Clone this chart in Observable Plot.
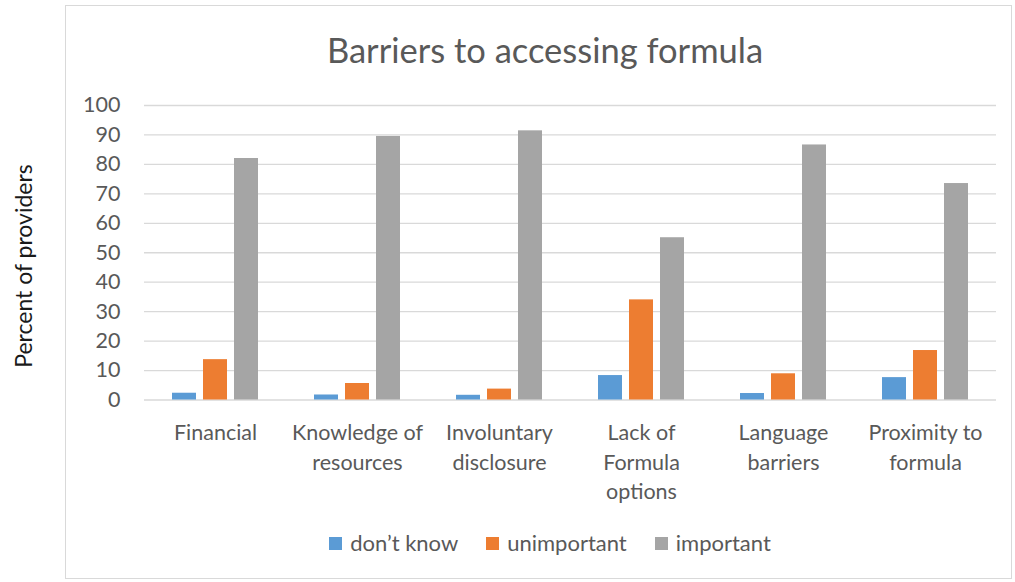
<!DOCTYPE html>
<html>
<head>
<meta charset="utf-8">
<script src="https://cdn.jsdelivr.net/npm/d3@7"></script>
<script src="https://cdn.jsdelivr.net/npm/@observablehq/plot@0.6"></script>
<style>
  html, body { margin: 0; padding: 0; background: #fff; }
  #wrap { position: relative; width: 1015px; height: 582px; font-family: Lato, "Open Sans", sans-serif; color: #595959; overflow: hidden; }
  #frame { position: absolute; left: 65px; top: 5px; width: 947px; height: 574px; border: 1px solid #d9d9d9; box-sizing: border-box; }
  #title { position: absolute; left: 65px; width: 960px; top: 28px; text-align: center; font-size: 34.5px; font-weight: 400; line-height: 44px; color: #595959; }
  #ylabel { position: absolute; left: 23px; top: 266px; transform: translate(-50%, -50%) rotate(-90deg); white-space: nowrap; font-size: 23px; color: #1a1a1a; }
  #chart { position: absolute; left: 65px; top: 90px; }
  #legend { position: absolute; left: 0; width: 1100px; top: 527px; display: flex; justify-content: center; gap: 28px; font-size: 22px; line-height: 32px; }
  .item { display: flex; align-items: center; gap: 8px; }
  .sw { width: 13px; height: 13px; display: inline-block; }
</style>
</head>
<body>
<div id="wrap">
  <div id="frame"></div>
  <div id="title"></div>
  <div id="ylabel"></div>
  <div id="chart"></div>
  <div id="legend"></div>
</div>
<script>
const title = "Barriers to accessing formula";
const yLabel = "Percent of providers";
const categories = ["Financial", "Knowledge of resources", "Involuntary disclosure", "Lack of Formula options", "Language barriers", "Proximity to formula"];
const categoryLabels = ["Financial", "Knowledge of\nresources", "Involuntary\ndisclosure", "Lack of\nFormula\noptions", "Language\nbarriers", "Proximity to\nformula"];
const series = ["don\u2019t know", "unimportant", "important"];
const colors = ["#5b9bd5", "#ed7d31", "#a5a5a5"];
const dontKnow = [2.3, 1.7, 1.6, 8.3, 2.2, 7.6];
const unimportant = [13.7, 5.6, 3.7, 34.0, 8.9, 16.8];
const important = [82.0, 89.5, 91.4, 55.1, 86.6, 73.5];
const yTicks = [0, 10, 20, 30, 40, 50, 60, 70, 80, 90, 100];

const valuesBySeries = [dontKnow, unimportant, important];
const data = [];
categories.forEach((c, i) => {
  series.forEach((s, j) => data.push({category: c, series: s, value: valuesBySeries[j][i]}));
});

document.getElementById("title").textContent = title;
document.getElementById("ylabel").textContent = yLabel;

const labelMap = new Map(categories.map((c, i) => [c, categoryLabels[i]]));

const chart = Plot.plot({
  width: 947,
  height: 425,
  marginLeft: 77,
  marginRight: 15,
  marginTop: 15,
  marginBottom: 115.5,
  style: {fontFamily: "Lato, 'Open Sans', sans-serif", color: "#595959", background: "transparent"},
  fx: {domain: categories, paddingInner: 0, paddingOuter: 0, label: null},
  x: {domain: series, paddingInner: 0.219, paddingOuter: 0.844, axis: null},
  y: {domain: [0, 100], label: null},
  color: {domain: series, range: colors},
  marks: [
    Plot.gridY(yTicks, {stroke: "#d9d9d9", strokeOpacity: 1, strokeWidth: 1.3}),
    Plot.barY(data, {fx: "category", x: "series", y: "value", fill: "series"}),
    Plot.axisY(yTicks, {tickSize: 0, tickPadding: 24, fontSize: 21.5, fill: "#595959", label: null}),
    Plot.axisFx({anchor: "bottom", tickSize: 0, tickPadding: 19, fontSize: 21.5, lineHeight: 1.38, fill: "#595959", label: null, tickFormat: d => labelMap.get(d)})
  ]
});
document.getElementById("chart").appendChild(chart);

const legend = document.getElementById("legend");
series.forEach((s, i) => {
  const item = document.createElement("div");
  item.className = "item";
  const sw = document.createElement("span");
  sw.className = "sw";
  sw.style.background = colors[i];
  const t = document.createElement("span");
  t.textContent = s;
  item.appendChild(sw); item.appendChild(t);
  legend.appendChild(item);
});
</script>
</body>
</html>
